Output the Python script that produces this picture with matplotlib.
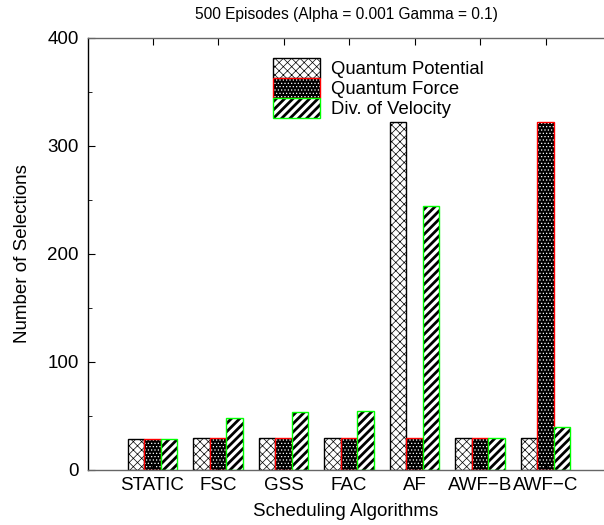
import numpy as np
import matplotlib
matplotlib.use('Agg')
import matplotlib.pyplot as plt
from matplotlib.patches import Patch, Rectangle
from matplotlib.legend_handler import HandlerTuple

plt.rcParams['font.family'] = ['Liberation Sans', 'DejaVu Sans']
plt.rcParams['hatch.linewidth'] = 0.5

# selections per scheduling algorithm
algorithms = ['STATIC', 'FSC', 'GSS', 'FAC', 'AF', 'AWF\u2212B', 'AWF\u2212C']
quantum_potential = [29, 30, 30, 30, 322, 30, 30]
quantum_force = [29, 30, 30, 30, 30, 30, 322]
div_velocity = [29, 48, 54, 55, 244, 30, 40]

QP_STYLE = dict(face='white', hatch_col='black', hatch='xxxx', edge='black')
QF_STYLE = dict(face='black', hatch_col='white', hatch='.....', edge='red')
DV_STYLE = dict(face='white', hatch_col='black', hatch='////', edge='#00ff00')
STRIPE_LW = 2.0

fig = plt.figure(figsize=(6.04, 5.25), dpi=100)
ax = fig.add_axes([88 / 604, 55 / 525, 523 / 604, 432 / 525])

x = np.arange(len(algorithms))
w = 0.25


def hatched_bars(pos, vals, face, hatch_col, hatch, edge):
    ax.bar(pos, vals, w, color=face, edgecolor=hatch_col, hatch=hatch, linewidth=0)
    ax.bar(pos, vals, w, fill=False, edgecolor=edge, linewidth=1.0)


hatched_bars(x - w, quantum_potential, **QP_STYLE)
hatched_bars(x, quantum_force, **QF_STYLE)
hatched_bars(x + w, div_velocity, **DV_STYLE)

ax.set_xlim(-0.985, 7.0)
ax.set_ylim(0, 400)
ax.set_xticks(x)
ax.set_xticklabels(algorithms)
ax.set_yticks([0, 100, 200, 300, 400])
ax.set_yticks(np.arange(50, 400, 100), minor=True)
ax.tick_params(axis='both', which='both', direction='in', labelsize=13.5)
ax.tick_params(axis='y', which='major', length=5, pad=6.5)
ax.tick_params(axis='y', which='minor', length=3)
ax.tick_params(axis='x', length=5, pad=5, top=True)

ax.spines['right'].set_visible(False)
ax.spines['left'].set_color('black')
ax.spines['top'].set_color('#666666')
ax.spines['bottom'].set_color('#666666')
for s in ax.spines.values():
    s.set_linewidth(1.0)

ax.set_xlabel('Scheduling Algorithms', fontsize=13.5, va='center')
ax.xaxis.set_label_coords((346 - 88) / 523, -(511 - 470) / 432)
ax.set_ylabel('Number of Selections', fontsize=13.5, va='center')
ax.yaxis.set_label_coords((23 - 88) / 523, 0.5)

fig.text(346 / 604, 1 - 15 / 525, '500 Episodes (Alpha = 0.001 Gamma = 0.1)',
         ha='center', va='center', fontsize=11.2)


# legend handles are layered: hatched fill plus coloured outline
def legend_handle(face, hatch_col, hatch, edge):
    return (Patch(facecolor=face, edgecolor=hatch_col, hatch=hatch, linewidth=0),
            Patch(fill=False, edgecolor=edge, linewidth=1.0))


handles = [legend_handle(**QP_STYLE), legend_handle(**QF_STYLE),
           legend_handle(**DV_STYLE)]
ax.legend(handles, ['Quantum Potential', 'Quantum Force', 'Div. of Velocity'],
          handler_map={tuple: HandlerTuple(ndivide=1)},
          loc='upper left', bbox_to_anchor=(273 / 604, 1 - 58 / 525),
          bbox_transform=fig.transFigure, frameon=False, fontsize=13.3,
          borderpad=0, borderaxespad=0, handlelength=2.55, handleheight=1.27,
          labelspacing=0, handletextpad=0.6)


# thick stripes only for the diagonal hatch; the rest keep thin hatch lines
def thick_hatch(artist, lw):
    draw = artist.draw

    def wrapped(renderer):
        with plt.rc_context({'hatch.linewidth': lw}):
            if hasattr(artist, 'set_hatch_linewidth'):
                artist.set_hatch_linewidth(lw)
            draw(renderer)
    artist.draw = wrapped


for r in fig.findobj(Rectangle):
    if r.get_hatch() == DV_STYLE['hatch']:
        thick_hatch(r, STRIPE_LW)

fig.savefig('out.png', dpi=100)
